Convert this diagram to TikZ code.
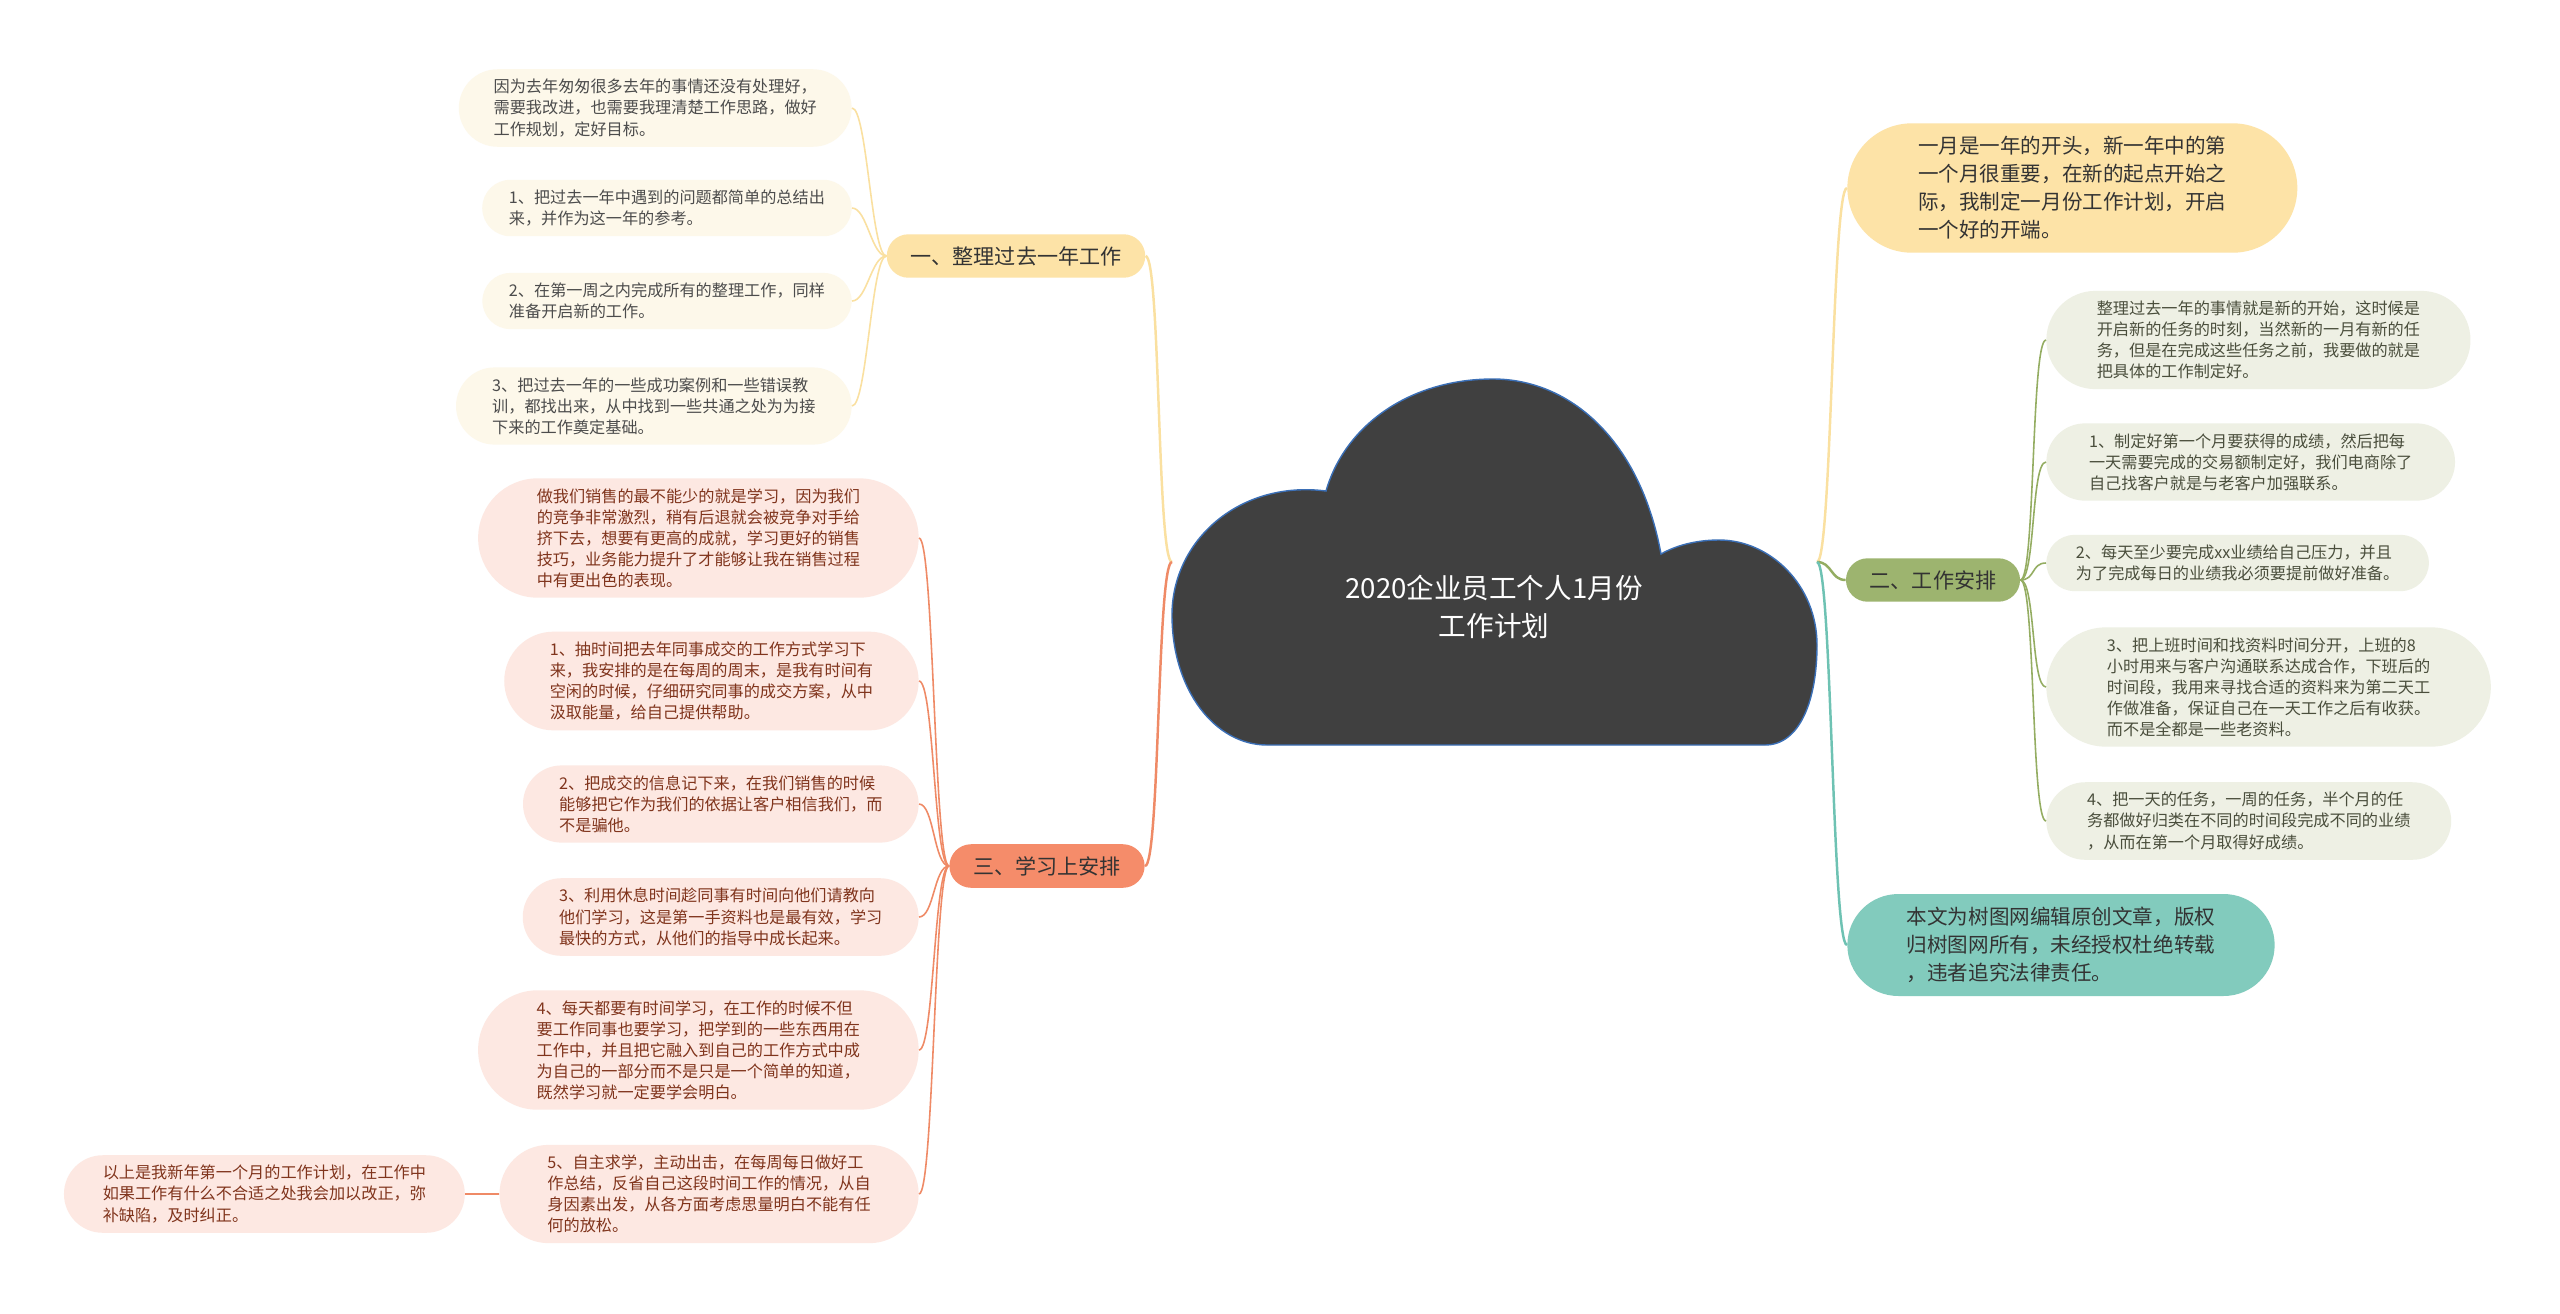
\documentclass[tikz,border=0pt]{standalone}
\usepackage{fontspec}
\setmainfont{Noto Sans CJK SC}
\usetikzlibrary{positioning,shapes.misc}
\definecolor{rootgray}{RGB}{64,64,64}
\definecolor{rootblue}{RGB}{59,111,182}
\definecolor{mapyellow}{RGB}{253,227,167}
\definecolor{mapcream}{RGB}{253,248,234}
\definecolor{lineyellow}{RGB}{250,224,160}
\definecolor{mapsalmon}{RGB}{245,140,106}
\definecolor{mappink}{RGB}{253,232,226}
\definecolor{linesalmon}{RGB}{239,138,102}
\definecolor{textbrown}{RGB}{128,52,28}
\definecolor{mapolive}{RGB}{157,180,111}
\definecolor{mapsage}{RGB}{238,240,228}
\definecolor{lineolive}{RGB}{148,173,98}
\definecolor{textolive}{RGB}{74,78,60}
\definecolor{mapteal}{RGB}{130,203,189}
\definecolor{lineteal}{RGB}{110,194,179}

\begin{document}
\begin{tikzpicture}[x=0.02cm, y=-0.02cm,
  every node/.style={font=\fontsize{9.2pt}{12pt}\selectfont, align=left},
  leaf/.style={rounded rectangle, inner xsep=#1, inner ysep=0.2cm},
  branch/.style={rounded rectangle, inner xsep=0.43cm, inner ysep=0.24cm, text=black!80, font=\fontsize{12pt}{14pt}\selectfont},
  topic/.style={rounded rectangle, inner xsep=#1, inner ysep=0.26cm, text=black!80, font=\fontsize{11.7pt}{16pt}\selectfont},
  lwire/.style={out=180, in=0, out distance=0.3cm, in distance=0.3cm},
  rwire/.style={out=0, in=180, out distance=0.3cm, in distance=0.3cm}]
\fill[white] (0,0) rectangle (2560,1313);

% central cloud
\fill[rootgray, draw=rootblue, line width=0.8pt] (1267,745) -- (1765,745)
  .. controls (1800,745) and (1817,700) .. (1817,645)
  .. controls (1817,585) and (1770,540) .. (1719,540)
  .. controls (1695,540) and (1675,546) .. (1661,554)
  .. controls (1640,440) and (1570,379) .. (1493,379)
  .. controls (1410,379) and (1345,425) .. (1326,491)
  .. controls (1240,480) and (1172,540) .. (1172,615)
  .. controls (1172,690) and (1215,745) .. (1267,745) -- cycle;
\node[text=white, align=center, font=\fontsize{15.7pt}{21.4pt}\selectfont] (root) at (1494,607) {2020企业员工个人1月份\\工作计划};
\coordinate (jl) at (1172,562);
\coordinate (jr) at (1817,562);

% left: review of last year
\node[branch, fill=mapyellow] (review) at (1016,256) {一、整理过去一年工作};
\node[leaf=0.44cm, fill=mapcream, text=black!70, anchor=east] (y1) at (852,108) {因为去年匆匆很多去年的事情还没有处理好，\\需要我改进，也需要我理清楚工作思路，做好\\工作规划，定好目标。};
\node[leaf=0.4cm, fill=mapcream, text=black!70, anchor=east] (y2) at (852,208) {1、把过去一年中遇到的问题都简单的总结出\\来，并作为这一年的参考。};
\node[leaf=0.4cm, fill=mapcream, text=black!70, anchor=east] (y3) at (852,301) {2、在第一周之内完成所有的整理工作，同样\\准备开启新的工作。};
\node[leaf=0.47cm, fill=mapcream, text=black!70, anchor=east] (y4) at (852,406) {3、把过去一年的一些成功案例和一些错误教\\训，都找出来，从中找到一些共通之处为为接\\下来的工作奠定基础。};

% left: study plan
\node[branch, fill=mapsalmon] (study) at (1047,866) {三、学习上安排};
\node[leaf=0.64cm, fill=mappink, text=textbrown, anchor=east] (s1) at (919,538) {做我们销售的最不能少的就是学习，因为我们\\的竞争非常激烈，稍有后退就会被竞争对手给\\挤下去，想要有更高的成就，学习更好的销售\\技巧，业务能力提升了才能够让我在销售过程\\中有更出色的表现。};
\node[leaf=0.52cm, fill=mappink, text=textbrown, anchor=east] (s2) at (919,681) {1、抽时间把去年同事成交的工作方式学习下\\来，我安排的是在每周的周末，是我有时间有\\空闲的时候，仔细研究同事的成交方案，从中\\汲取能量，给自己提供帮助。};
\node[leaf=0.47cm, fill=mappink, text=textbrown, anchor=east] (s3) at (919,804) {2、把成交的信息记下来，在我们销售的时候\\能够把它作为我们的依据让客户相信我们，而\\不是骗他。};
\node[leaf=0.47cm, fill=mappink, text=textbrown, anchor=east] (s4) at (919,917) {3、利用休息时间趁同事有时间向他们请教向\\他们学习，这是第一手资料也是最有效，学习\\最快的方式，从他们的指导中成长起来。};
\node[leaf=0.64cm, fill=mappink, text=textbrown, anchor=east] (s5) at (919,1050) {4、每天都要有时间学习，在工作的时候不但\\要工作同事也要学习，把学到的一些东西用在\\工作中，并且把它融入到自己的工作方式中成\\为自己的一部分而不是只是一个简单的知道，\\既然学习就一定要学会明白。};
\node[leaf=0.57cm, fill=mappink, text=textbrown, anchor=east] (s6) at (919,1194) {5、自主求学，主动出击，在每周每日做好工\\作总结，反省自己这段时间工作的情况，从自\\身因素出发，从各方面考虑思量明白不能有任\\何的放松。};
\node[leaf=0.52cm, fill=mappink, text=textbrown, left=0.68cm of s6] (wrapup) {以上是我新年第一个月的工作计划，在工作中\\如果工作有什么不合适之处我会加以改正，弥\\补缺陷，及时纠正。};

% right side
\node[topic=0.9cm, fill=mapyellow, anchor=west] (intro) at (1847,188) {一月是一年的开头，新一年中的第\\一个月很重要，在新的起点开始之\\际，我制定一月份工作计划，开启\\一个好的开端。};
\node[branch, fill=mapolive] (arrange) at (1933,580) {二、工作安排};
\node[leaf=0.62cm, fill=mapsage, text=textolive, anchor=west] (g1) at (2046,340) {整理过去一年的事情就是新的开始，这时候是\\开启新的任务的时刻，当然新的一月有新的任\\务，但是在完成这些任务之前，我要做的就是\\把具体的工作制定好。};
\node[leaf=0.6cm, fill=mapsage, text=textolive, anchor=west] (g2) at (2046,462) {1、制定好第一个月要获得的成绩，然后把每\\一天需要完成的交易额制定好，我们电商除了\\自己找客户就是与老客户加强联系。};
\node[leaf=0.46cm, fill=mapsage, text=textolive, anchor=west] (g3) at (2046,563) {2、每天至少要完成xx业绩给自己压力，并且\\为了完成每日的业绩我必须要提前做好准备。};
\node[leaf=0.68cm, fill=mapsage, text=textolive, anchor=west] (g4) at (2046,687) {3、把上班时间和找资料时间分开，上班的8\\小时用来与客户沟通联系达成合作，下班后的\\时间段，我用来寻找合适的资料来为第二天工\\作做准备，保证自己在一天工作之后有收获。\\而不是全都是一些老资料。};
\node[leaf=0.56cm, fill=mapsage, text=textolive, anchor=west] (g5) at (2046,821) {4、把一天的任务，一周的任务，半个月的任\\务都做好归类在不同的时间段完成不同的业绩\\，从而在第一个月取得好成绩。};
\node[topic=0.85cm, fill=mapteal, anchor=west] (note) at (1847,945) {本文为树图网编辑原创文章，版权\\归树图网所有，未经授权杜绝转载\\，违者追究法律责任。};

% connectors
\draw[lineyellow, line width=1.4pt] (jl) to[lwire] (review.east);
\draw[linesalmon, line width=1.4pt] (jl) to[lwire] (study.east);
\draw[lineyellow, line width=1.4pt] (jr) to[rwire] (intro.west);
\draw[lineolive, line width=1.4pt] (jr) to[rwire] (arrange.west);
\draw[lineteal, line width=1.4pt] (jr) to[rwire] (note.west);
\foreach \i in {1,...,4} \draw[lineyellow, line width=0.9pt] (review.west) to[lwire] (y\i.east);
\foreach \i in {1,...,6} \draw[linesalmon, line width=0.9pt] (study.west) to[lwire] (s\i.east);
\foreach \i in {1,...,5} \draw[lineolive, line width=0.9pt] (arrange.east) to[rwire] (g\i.west);
\draw[linesalmon, line width=0.9pt] (s6) -- (wrapup);
\end{tikzpicture}
\end{document}
